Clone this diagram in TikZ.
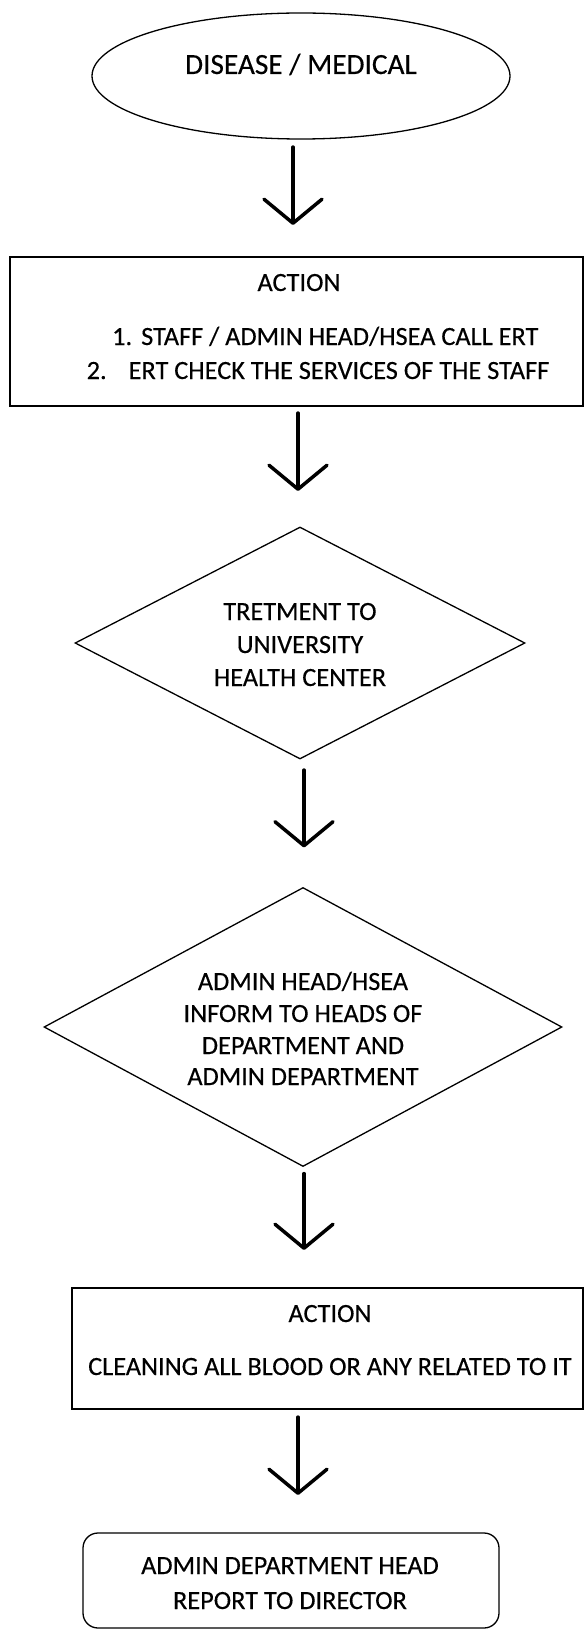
\documentclass[tikz,border=0pt]{standalone}
\usepackage{fontspec}
\setmainfont{Carlito}[FakeBold=0.35]
\usetikzlibrary{shapes.geometric,arrows.meta}
\begin{document}
\begin{tikzpicture}[x=1pt,y=-1pt,
  shapeline/.style={draw=black,line width=1.3pt,inner sep=0pt},
  txt/.style={anchor=base,inner sep=0pt,font=\fontsize{26.3}{30}\selectfont},
  txtl/.style={anchor=base west,inner sep=0pt,font=\fontsize{26.3}{30}\selectfont},
  bigtxt/.style={anchor=base,inner sep=0pt,font=\fontsize{29.3}{33}\selectfont},
  flow/.style={line width=3.5pt,line cap=round,
    -{Straight Barb[length=24pt,width=58pt,line cap=round,line join=round]}},
]
\useasboundingbox (0,0) rectangle (584,1629);

% shapes
\node[shapeline, ellipse, minimum width=418pt, minimum height=126pt] (start) at (301,76) {};
\node[shapeline, rectangle, minimum width=573pt, minimum height=149pt] (act1) at (296.5,331.5) {};
\node[shapeline, diamond, minimum width=450pt, minimum height=232pt] (d1) at (300,643) {};
\node[shapeline, diamond, minimum width=518pt, minimum height=279pt] (d2) at (303,1027) {};
\node[shapeline, rectangle, minimum width=511pt, minimum height=121pt] (act2) at (327.5,1348.5) {};
\node[shapeline, rectangle, rounded corners=15pt, minimum width=416pt, minimum height=95pt] (report) at (291,1580.5) {};

% texts
\node[bigtxt] (t0) at (301,74) {DISEASE / MEDICAL};

\node[txt] (t1a) at (299,291) {ACTION};
\node[txtl] (t1b) at (112,345) {\makebox[29pt][l]{1.}STAFF / ADMIN HEAD/HSEA CALL ERT};
\node[txtl] (t1c) at (86.5,379) {\makebox[42pt][l]{2.}ERT CHECK THE SERVICES OF THE STAFF};

\node[txt] (t2a) at (300,620) {TRETMENT TO};
\node[txt] (t2b) at (300,653) {UNIVERSITY};
\node[txt] (t2c) at (300,686) {HEALTH CENTER};

\node[txt] (t3a) at (303,990) {ADMIN HEAD/HSEA};
\node[txt] (t3b) at (303,1022) {INFORM TO HEADS OF};
\node[txt] (t3c) at (303,1054) {DEPARTMENT AND};
\node[txt] (t3d) at (303,1085) {ADMIN DEPARTMENT};

\node[txt] (t4a) at (330,1322) {ACTION};
\node[txt] (t4b) at (330,1375) {CLEANING ALL BLOOD OR ANY RELATED TO IT};

\node[txt] (t5a) at (290,1574) {ADMIN DEPARTMENT HEAD};
\node[txt] (t5b) at (290,1609) {REPORT TO DIRECTOR};

% connectors
\draw[flow, shorten <=7.4pt, shorten >=31.4pt] ([xshift=-8pt]start.south) -- ([xshift=-3.5pt]act1.north);
\draw[flow, shorten <=6.4pt, shorten >=35.4pt] ([xshift=1.5pt]act1.south) -- ([xshift=-2pt]d1.north);
\draw[flow, shorten <=10.4pt, shorten >=39.4pt] ([xshift=4pt]d1.south) -- ([xshift=1pt]d2.north);
\draw[flow, shorten <=6.4pt, shorten >=37.4pt] ([xshift=1pt]d2.south) -- ([xshift=-23.5pt]act2.north);
\draw[flow, shorten <=7.4pt, shorten >=37.4pt] ([xshift=-29.5pt]act2.south) -- ([xshift=7pt]report.north);
\end{tikzpicture}
\end{document}
